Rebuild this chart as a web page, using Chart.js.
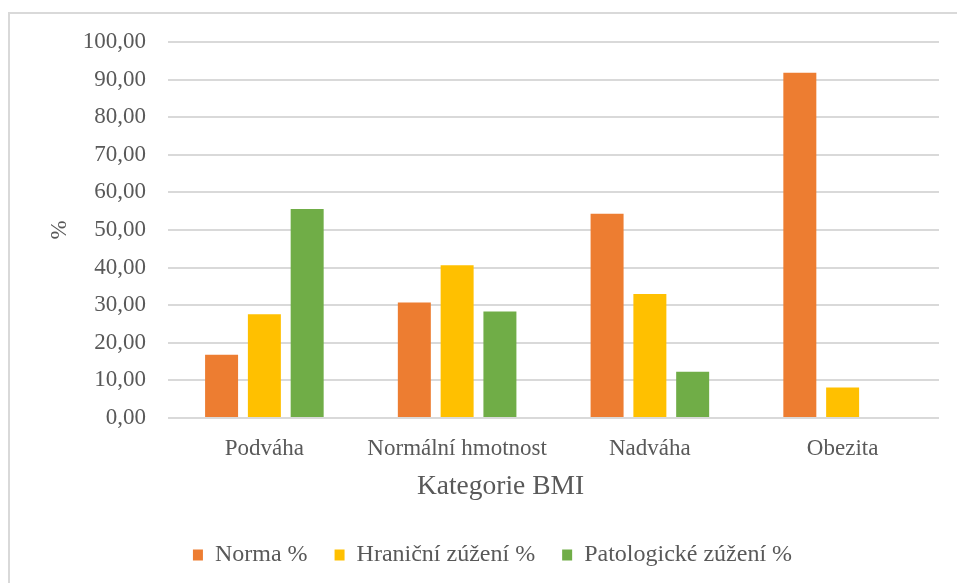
<!DOCTYPE html>
<html>
<head>
<meta charset="utf-8">
<script src="https://cdn.jsdelivr.net/npm/chart.js@4.4.0/dist/chart.umd.min.js"></script>
<style>
  html, body { margin: 0; padding: 0; background: #fff; }
  #wrap { width: 957px; height: 583px; overflow: hidden; }
</style>
</head>
<body>
<div id="wrap"><canvas id="bmiChart" width="957" height="583"></canvas></div>
<script>
// kategorie a hodnoty
const categories = ['Podváha', 'Normální hmotnost', 'Nadváha', 'Obezita'];
const normaPct = [16.8, 30.7, 54.3, 91.8];
const hranicniPct = [27.6, 40.6, 33.0, 8.1];
const patologickePct = [55.6, 28.3, 12.3, 0];
const seriesNames = ['Norma %', 'Hraniční zúžení %', 'Patologické zúžení %'];

const FONT = 'Liberation Serif';
const GREY = '#595959';

// tenky ramecek kolem grafu (jako v Excelu)
const frame = {
    id: 'frame',
    beforeDraw(chart) {
        const c = chart.ctx;
        c.save();
        c.strokeStyle = '#d9d9d9';
        c.lineWidth = 2;
        c.strokeRect(9, 13, 2000, 2000);
        c.restore();
    }
};

var ctx = document.getElementById('bmiChart').getContext('2d');
var chart = new Chart(ctx, {
    type: 'bar',
    data: {
        labels: categories,
        datasets: [
            { label: seriesNames[0], data: normaPct, backgroundColor: '#ED7D31' },
            { label: seriesNames[1], data: hranicniPct, backgroundColor: '#FFC000' },
            { label: seriesNames[2], data: patologickePct, backgroundColor: '#70AD47' }
        ]
    },
    options: {
        responsive: false,
        animation: false,
        categoryPercentage: 0.666,
        barPercentage: 0.771,
        layout: {
            padding: { left: 46, right: 18, top: 42, bottom: 6 }
        },
        scales: {
            x: {
                grid: { display: false },
                border: { display: false },
                ticks: {
                    color: GREY,
                    padding: 9,
                    font: { family: FONT, size: 23 }
                },
                title: {
                    display: true,
                    text: 'Kategorie BMI',
                    color: GREY,
                    font: { family: FONT, size: 27.5 },
                    padding: { top: 0, bottom: 13 }
                },
                afterFit(scale) {
                    scale.height = 98;
                    // Excel ma nazev osy posunuty doleva (na stred celeho grafu)
                    if (!scale._titleShifted) {
                        const orig = scale.drawTitle;
                        scale.drawTitle = function () {
                            this.ctx.save();
                            this.ctx.translate(-53, 0);
                            orig.call(this);
                            this.ctx.restore();
                        };
                        scale._titleShifted = true;
                    }
                }
            },
            y: {
                min: 0,
                max: 100,
                border: { display: false },
                grid: { color: '#d9d9d9', lineWidth: 2, drawTicks: false },
                ticks: {
                    stepSize: 10,
                    color: GREY,
                    padding: 22,
                    font: { family: FONT, size: 23 },
                    callback: (v) => v.toFixed(2).replace('.', ',')
                },
                title: {
                    display: true,
                    text: '%',
                    color: GREY,
                    font: { family: FONT, size: 23 },
                    padding: { top: 0, bottom: 0 }
                },
                afterFit(scale) { scale.width = 122; }
            }
        },
        plugins: {
            legend: {
                display: true,
                position: 'bottom',
                labels: {
                    color: GREY,
                    boxWidth: 10,
                    boxHeight: 11,
                    padding: 27,
                    font: { family: FONT, size: 24 }
                }
            },
            tooltip: { enabled: false }
        }
    },
    plugins: [frame]
});
</script>
</body>
</html>
